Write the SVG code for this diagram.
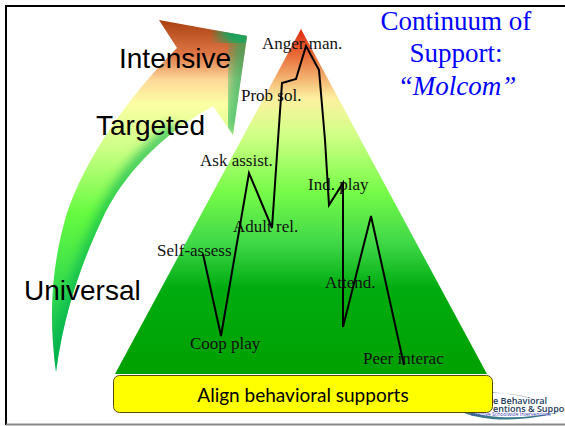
<svg xmlns="http://www.w3.org/2000/svg" width="565" height="426" viewBox="0 0 565 426">
<style>
.lbl{font-family:"Liberation Serif",serif;font-size:17px;fill:#111}
.tier{font-family:"Liberation Sans",sans-serif;font-size:28px;fill:#000}
.ttl{font-family:"Liberation Serif",serif;font-size:27px;fill:#0000ff;text-anchor:middle}
.logo{font-family:"Open Sans",sans-serif;font-size:9px;font-weight:600;fill:#223a5a}
</style>
<defs>
<linearGradient id="pyr" x1="0" y1="29" x2="0" y2="374" gradientUnits="userSpaceOnUse">
<stop offset="0" stop-color="#e02a10"/><stop offset=".08" stop-color="#e8703c"/><stop offset=".2" stop-color="#fdf0a0"/><stop offset=".3" stop-color="#d4ff88"/><stop offset=".47" stop-color="#77fb48"/><stop offset=".62" stop-color="#40d848"/><stop offset=".75" stop-color="#00ac10"/><stop offset="1" stop-color="#00a000"/>
</linearGradient>
<linearGradient id="arr" x1="0" y1="20" x2="0" y2="372" gradientUnits="userSpaceOnUse">
<stop offset="0" stop-color="#a84010"/><stop offset=".1" stop-color="#e07848"/><stop offset=".17" stop-color="#fdd898"/><stop offset=".24" stop-color="#fcffa4"/><stop offset=".36" stop-color="#cfff88"/><stop offset=".55" stop-color="#66fb40"/><stop offset=".78" stop-color="#30d850"/><stop offset="1" stop-color="#00b050"/>
</linearGradient>
<clipPath id="ac"><path id="ap" d="M56 372C49 320 50 270 67 213C85 160 125 100 177 48L159 20L247 36L233 135L213 106C170 130 130 165 105 213C85 255 65 305 56 372Z"/></clipPath>
<filter id="b" x="-30%" y="-30%" width="160%" height="160%"><feGaussianBlur stdDeviation="6"/></filter>
<filter id="b2" x="-30%" y="-30%" width="160%" height="160%"><feGaussianBlur stdDeviation="9"/></filter>
</defs>
<rect width="565" height="426" fill="#fff"/>
<path d="M6 425V6H565" fill="none" stroke="#000" stroke-width="2"/>
<path d="M6 424.500H565" fill="none" stroke="#888" stroke-width="2"/>
<g id="arrow">
<path d="M56 372C49 320 50 270 67 213C85 160 125 100 177 48L159 20L247 36L233 135L213 106C170 130 130 165 105 213C85 255 65 305 56 372Z" fill="url(#arr)"/>
<g clip-path="url(#ac)">
<path d="M56 372C65 305 85 255 105 213C130 165 150 150 175 128" fill="none" stroke="#00b050" stroke-width="11" filter="url(#b)" opacity=".8"/>
<path d="M247 30L233 135" fill="none" stroke="#20b060" stroke-width="18" filter="url(#b2)"/>
<path d="M220 30L250 40" fill="none" stroke="#10a860" stroke-width="18" filter="url(#b)"/>
</g>
</g>
<g id="logo">
<path d="M462 412C490 424 530 420 560 412C530 418 495 420 470 412Z" fill="#3a7a8a"/>
<path d="M490 392C515 394 535 398 538 402C530 396 512 393 490 393Z" fill="#8a9ab0"/>
<text class="logo" x="493" y="404">e Behavioral</text>
<text class="logo" x="493" y="412">entions &amp; Supports</text>
<text x="471" y="416" style="font-family:'Open Sans',sans-serif;font-size:5px;fill:#3a3ac0">Effective Schoolwide Interventions</text>
</g>
<g id="pyramid"><path d="M301 29L487 374H115Z" fill="url(#pyr)"/></g>
<g id="tiers">
<text class="tier" x="119" y="68">Intensive</text>
<text class="tier" x="96" y="135">Targeted</text>
<text class="tier" x="24" y="300">Universal</text>
</g>
<g id="title">
<text class="ttl" x="456" y="30">Continuum of</text>
<text class="ttl" x="456" y="62">Support:</text>
<text class="ttl" x="457" y="95" font-style="italic">“Molcom”</text>
</g>
<g id="labels">
<text class="lbl" x="262" y="49">Anger man.</text>
<text class="lbl" x="241" y="101">Prob sol.</text>
<text class="lbl" x="200" y="166">Ask assist.</text>
<text class="lbl" x="233" y="232">Adult rel.</text>
<text class="lbl" x="157" y="256">Self-assess</text>
<text class="lbl" x="190" y="349">Coop play</text>
<text class="lbl" x="308" y="190">Ind. play</text>
<text class="lbl" x="325" y="288">Attend.</text>
<text class="lbl" x="363" y="364">Peer interac</text>
</g>
<g id="connectors">
<polyline points="203,254 221,336 249,173 272,228 278,140 282,83 296,79 306,46 319,70 325,140 329,205 343,183 343,327 371,216 404,365" fill="none" stroke="#000" stroke-width="2"/>
</g>
<g id="align">
<rect x="113.500" y="375.500" width="379" height="37" rx="6" fill="#ffff00" stroke="#5a4a10" stroke-width="1"/>
<text x="303" y="402" text-anchor="middle" style="font-family:Lato,sans-serif;font-size:19px;fill:#000">Align behavioral supports</text>
</g>
</svg>
